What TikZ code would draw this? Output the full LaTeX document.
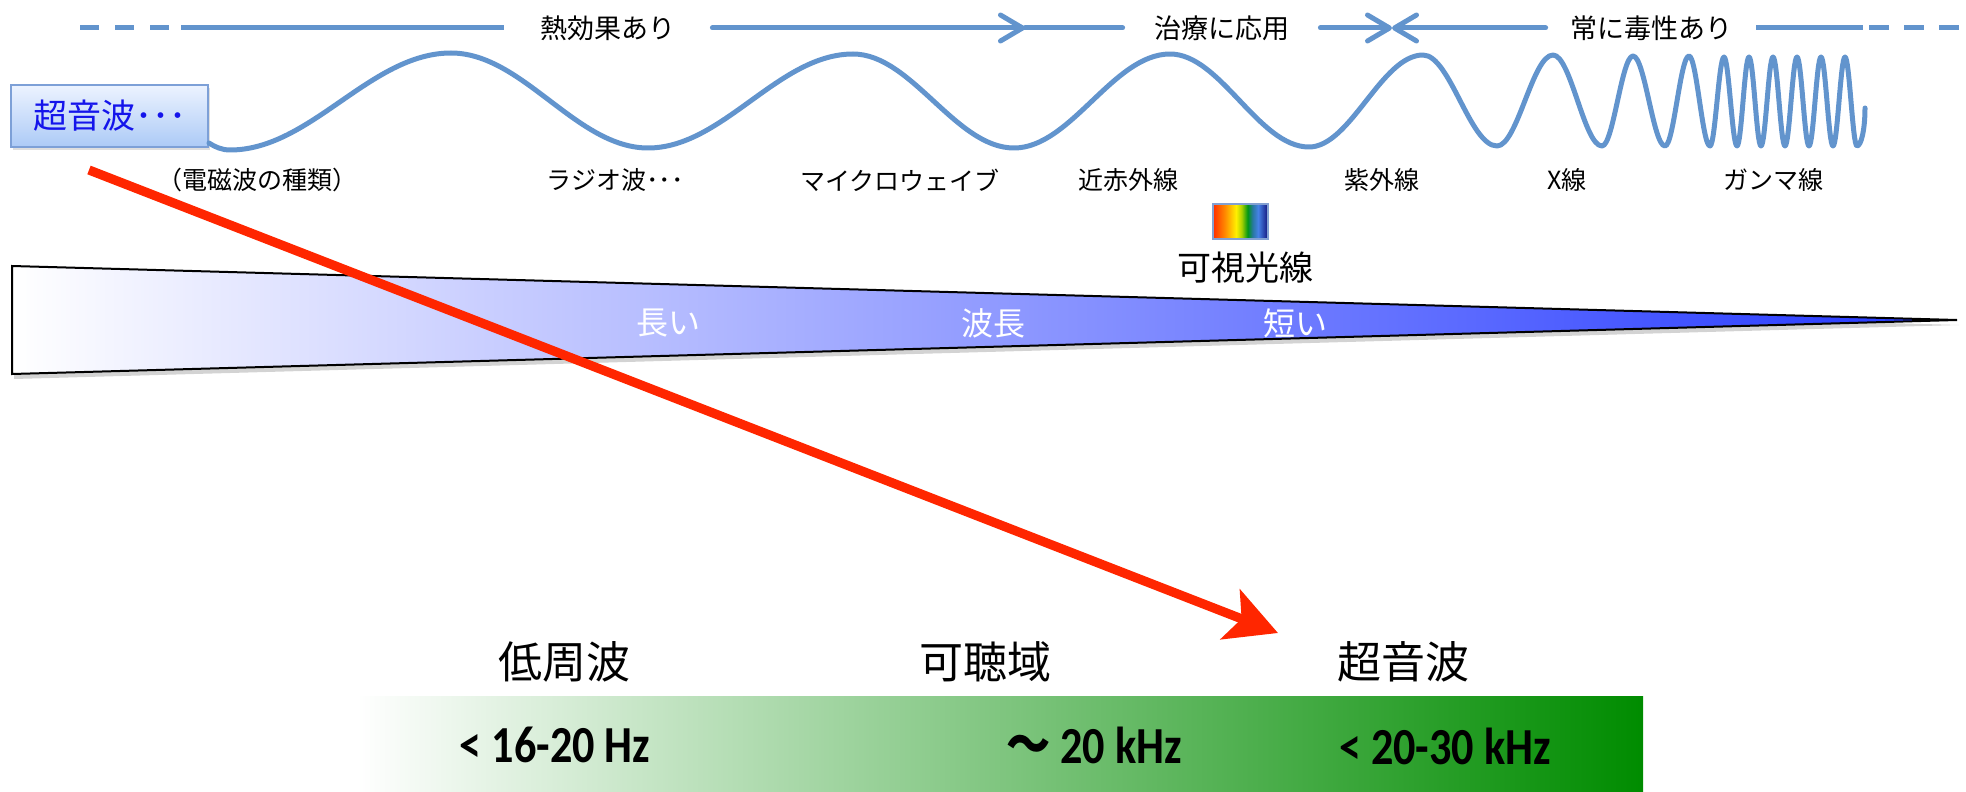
\documentclass[tikz,border=0pt]{standalone}
\usepackage{fontspec}
\setmainfont{Noto Sans CJK JP}
\newfontfamily\jpfont{Noto Sans CJK JP}
\newfontfamily\barfont{Carlito}
\usetikzlibrary{arrows.meta,shadows}
\definecolor{wblue}{RGB}{98,148,205}
\definecolor{ared}{RGB}{255,38,0}
\definecolor{wedgeblue}{RGB}{35,55,255}
\definecolor{grn}{RGB}{0,140,0}
\definecolor{boxtop}{RGB}{236,243,255}
\definecolor{boxbot}{RGB}{172,202,246}
\definecolor{boxedge}{RGB}{125,160,215}
\definecolor{boxtext}{RGB}{20,20,235}
\definecolor{specedge}{RGB}{130,160,210}
\definecolor{spa}{RGB}{255,45,0}
\definecolor{spb}{RGB}{255,140,0}
\definecolor{spc}{RGB}{255,240,0}
\definecolor{spd}{RGB}{170,210,0}
\definecolor{spe}{RGB}{0,150,20}
\definecolor{spf}{RGB}{40,120,160}
\definecolor{spg}{RGB}{70,130,230}
\definecolor{sph}{RGB}{20,20,125}
\pgfdeclarehorizontalshading{spectrum}{100bp}{color(0bp)=(spa); color(25bp)=(spa); color(36bp)=(spb); color(46bp)=(spc); color(51bp)=(spd); color(56.5bp)=(spe); color(61bp)=(spf); color(66bp)=(spg); color(75bp)=(sph); color(100bp)=(sph)}
\begin{document}
\begin{tikzpicture}[x=0.5pt,y=-0.5pt,
  topline/.style={wblue, line width=2.5pt, line cap=round},
  barb/.style={-{Straight Barb[length=11pt,width=13pt,round]}},
  toptext/.style={font=\fontsize{13.5}{16}\selectfont, inner sep=0pt, minimum height=14pt},
  wlabel/.style={font=\fontsize{12.5}{15}\selectfont, inner sep=0pt},
  wtext/.style={font=\fontsize{16}{19}\selectfont, text=white, inner sep=0pt},
  vtext/.style={font=\fontsize{17}{20}\selectfont, inner sep=0pt},
  bigtext/.style={font=\fontsize{22}{26}\selectfont, inner sep=0pt},
  bartext/.style={font=\barfont\bfseries\fontsize{26}{30}\selectfont, inner sep=0pt},
  ubox/.style={draw=boxedge, line width=0.8pt, top color=boxtop, bottom color=boxbot,
    minimum width=98.5pt, minimum height=31pt, inner sep=0pt, text=boxtext,
    font=\fontsize{17}{20}\selectfont,
    drop shadow={opacity=0.25,shadow xshift=1pt,shadow yshift=-1.5pt}},
  spec/.style={draw=specedge, line width=0.6pt, shading=spectrum, minimum width=27.5pt,
    minimum height=17.5pt, inner sep=0pt},
  gbar/.style={left color=white, right color=grn, minimum width=643pt, minimum height=48pt, inner sep=0pt},
  wave/.style={wblue, line width=2.5pt, line cap=round, line join=round},
  redarrow/.style={ared, line width=4.6pt, -{Stealth[length=25.5pt,width=26.5pt,inset=6pt]}}
]
\useasboundingbox (0,0) rectangle (1966,792);

% ---------- top line ----------
\node[toptext, minimum width=104pt] (t1) at (608,28) {熱効果あり};
\node[toptext, minimum width=98.5pt] (t2) at (1221.5,28) {治療に応用};
\node[toptext, minimum width=105pt] (t3) at (1651,28) {常に毒性あり};
\coordinate (L0) at (80,28);
\coordinate (L1) at (170,28);
\coordinate (L2) at (181,28);
\coordinate (A1) at (1025,28);
\coordinate (A2) at (1392,28);
\coordinate (R1) at (1863,28);
\coordinate (R2) at (1869,28);
\coordinate (R3) at (1960,28);
\draw[topline, line cap=butt, dash pattern=on 9.5pt off 8pt] (L0) -- (L1);
\draw[topline, line cap=butt] (L2) -- (t1.west);
\draw[topline, barb] (t1.east) -- (A1);
\draw[topline] (A1) -- (t2.west);
\draw[topline, barb] (t2.east) -- (A2);
\draw[topline, barb] (t3.west) -- (A2);
\draw[topline, line cap=butt] (t3.east) -- (R1);
\draw[topline, line cap=butt, dash pattern=on 10pt off 7.5pt] (R2) -- (R3);

% ---------- wedge ----------
\draw[left color=white, right color=wedgeblue, draw=black, line width=1pt,
  drop shadow={opacity=0.35,shadow xshift=1pt,shadow yshift=-2.5pt}]
  (12,266) -- (1957,320) -- (12,374) -- cycle;
\node[wtext] (w1) at (668,323) {長い};
\node[wtext] (w2) at (993,323) {波長};
\node[wtext] (w3) at (1295,323) {短い};

% ---------- box and wave ----------
\node[ubox] (us) at (109.5,116) {超音波･･･};
\draw[wave] (209,143) .. controls (215,147) and (222,150) .. (230,150)
  .. controls (310.5,150) and (370.5,53) .. (451,53)
  .. controls (522.7,53) and (576.3,148) .. (648,148)
  .. controls (722.7,148) and (778.3,54) .. (853,54)
  .. controls (911.6,54) and (955.4,148) .. (1014,148)
  .. controls (1070.8,148) and (1113.2,54) .. (1170,54)
  .. controls (1220.6,54) and (1258.4,147) .. (1309,147)
  .. controls (1350.5,147) and (1381.5,55) .. (1423,55)
  .. controls (1450,55) and (1470,146) .. (1497,146)
  .. controls (1517.4,146) and (1532.6,55) .. (1553,55)
  .. controls (1570.8,55) and (1584.2,146) .. (1602,146)
  .. controls (1613.3,146) and (1621.7,56) .. (1633,56)
  .. controls (1644.7,56) and (1653.3,146) .. (1665,146)
  .. controls (1673.7,146) and (1680.3,56) .. (1689,56)
  .. controls (1696.6,56) and (1702.4,146) .. (1710,146)
  .. controls (1715.1,146) and (1718.9,57) .. (1724,57)
  .. controls (1728.7,57) and (1732.3,146) .. (1737,146)
  .. controls (1741.4,146) and (1744.6,57) .. (1749,57)
  .. controls (1753.4,57) and (1756.6,146) .. (1761,146)
  .. controls (1765.4,146) and (1768.6,57) .. (1773,57)
  .. controls (1777.4,57) and (1780.6,146) .. (1785,146)
  .. controls (1789.4,146) and (1792.6,57) .. (1797,57)
  .. controls (1801.4,57) and (1804.6,146) .. (1809,146)
  .. controls (1813.4,146) and (1816.6,57) .. (1821,57)
  .. controls (1825.4,57) and (1828.6,146) .. (1833,146)
  .. controls (1837.4,146) and (1840.6,57) .. (1845,57)
  .. controls (1849.4,57) and (1852.6,146) .. (1857,146)
  .. controls (1861,146) and (1865,130) .. (1865,108);

% ---------- wave labels ----------
\node[wlabel] (l0) at (257,180) {（電磁波の種類）};
\node[wlabel] (l1) at (615,180) {ラジオ波･･･};
\node[wlabel] (l2) at (900,180) {マイクロウェイブ};
\node[wlabel] (l3) at (1128,180) {近赤外線};
\node[wlabel] (l4) at (1382,180) {紫外線};
\node[wlabel] (l5) at (1567,180) {X線};
\node[wlabel] (l6) at (1773,180) {ガンマ線};

% ---------- visible light ----------
\node[spec] (vis) at (1240.5,221.5) {};
\node[vtext] (vist) at (1245,268) {可視光線};

% ---------- bottom ----------
\node[bigtext] (b1) at (564,662) {低周波};
\node[bigtext] (b2) at (985,662) {可聴域};
\node[bigtext] (b3) at (1403,662) {超音波};
\node[gbar] (bar) at (1000,744) {};
\node[bartext] (f1) at (555,745) {\scalebox{0.85}[1]{< 16-20 Hz}};
\node[bartext] (f2) at (1094,745) {\scalebox{0.85}[1]{{\jpfont ～} 20 kHz}};
\node[bartext] (f3) at (1445,746) {\scalebox{0.85}[1]{< 20-30 kHz}};

% ---------- red arrow ----------
\coordinate (ra) at (89,170);
\coordinate (rb) at (1278,633);
\draw[redarrow] (ra) -- (rb);
\end{tikzpicture}
\end{document}
